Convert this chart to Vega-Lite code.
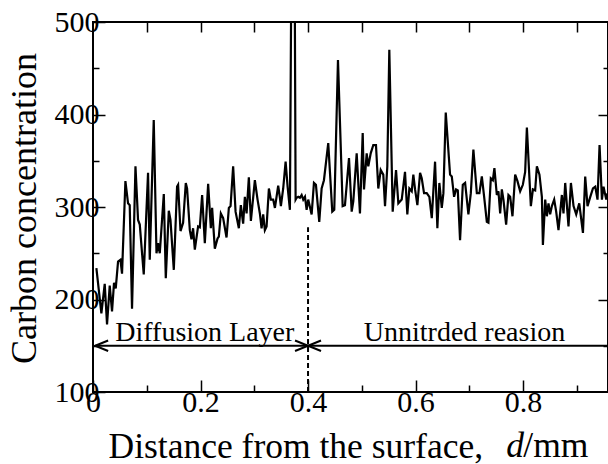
{
  "$schema": "https://vega.github.io/schema/vega-lite/v6.json",
  "width": 515,
  "height": 370,
  "autosize": {"type": "none"},
  "padding": {"left": 93, "top": 22, "right": 0, "bottom": 72},
  "background": "white",
  "config": {
    "view": {"stroke": "black", "strokeWidth": 2},
    "font": "Liberation Serif",
    "axis": {
      "domain": false,
      "grid": false,
      "labelFont": "Liberation Serif",
      "labelFontSize": 30,
      "labelColor": "black",
      "tickColor": "black",
      "tickWidth": 1.5,
      "titleFont": "Liberation Serif",
      "titleColor": "black",
      "titleFontWeight": "normal",
      "labelFlush": false,
      "labelOverlap": false
    },
    "text": {"font": "Liberation Serif"}
  },
  "datasets": {
    "profile": [
      {"d":0.0063,"c":234},{"d":0.0156,"c":185},{"d":0.0218,"c":217},{"d":0.0261,"c":173},{"d":0.0311,"c":215},
      {"d":0.0354,"c":187},{"d":0.0391,"c":218},{"d":0.0423,"c":212},{"d":0.0466,"c":241},{"d":0.0510,"c":243},
      {"d":0.0540,"c":228},{"d":0.0603,"c":328},{"d":0.0652,"c":304},{"d":0.0683,"c":302},{"d":0.0726,"c":190},
      {"d":0.0790,"c":344},{"d":0.0838,"c":286},{"d":0.0870,"c":281},{"d":0.0944,"c":227},{"d":0.1024,"c":337},
      {"d":0.1056,"c":243},{"d":0.1130,"c":394},{"d":0.1181,"c":250},{"d":0.1210,"c":261},{"d":0.1242,"c":250},
      {"d":0.1317,"c":314},{"d":0.1354,"c":223},{"d":0.1410,"c":296},{"d":0.1441,"c":286},{"d":0.1503,"c":232},
      {"d":0.1564,"c":322},{"d":0.1583,"c":324},{"d":0.1628,"c":274},{"d":0.1676,"c":283},{"d":0.1726,"c":326},
      {"d":0.1750,"c":320},{"d":0.1801,"c":275},{"d":0.1832,"c":265},{"d":0.1862,"c":277},{"d":0.1894,"c":254},
      {"d":0.1955,"c":279},{"d":0.1987,"c":278},{"d":0.2030,"c":313},{"d":0.2080,"c":261},{"d":0.2142,"c":325},
      {"d":0.2192,"c":277},{"d":0.2216,"c":299},{"d":0.2266,"c":255},{"d":0.2317,"c":266},{"d":0.2341,"c":268},
      {"d":0.2378,"c":293},{"d":0.2421,"c":288},{"d":0.2484,"c":267},{"d":0.2527,"c":299},{"d":0.2559,"c":301},
      {"d":0.2607,"c":344},{"d":0.2652,"c":295},{"d":0.2713,"c":277},{"d":0.2750,"c":302},{"d":0.2793,"c":282},
      {"d":0.2825,"c":311},{"d":0.2857,"c":293},{"d":0.2899,"c":332},{"d":0.2937,"c":285},{"d":0.3011,"c":329},
      {"d":0.3061,"c":308},{"d":0.3104,"c":293},{"d":0.3136,"c":277},{"d":0.3166,"c":292},{"d":0.3197,"c":275},
      {"d":0.3229,"c":279},{"d":0.3272,"c":320},{"d":0.3309,"c":308},{"d":0.3352,"c":308},{"d":0.3384,"c":299},
      {"d":0.3445,"c":323},{"d":0.3477,"c":310},{"d":0.3495,"c":301},{"d":0.3538,"c":320},{"d":0.3583,"c":349},
      {"d":0.3620,"c":322},{"d":0.3663,"c":297},{"d":0.3696,"c":620},{"d":0.3747,"c":620},{"d":0.3769,"c":308},
      {"d":0.3788,"c":310},{"d":0.3818,"c":311},{"d":0.3849,"c":310},{"d":0.3881,"c":313},{"d":0.3911,"c":308},
      {"d":0.3943,"c":311},{"d":0.3974,"c":297},{"d":0.4004,"c":308},{"d":0.4067,"c":292},{"d":0.4110,"c":326},
      {"d":0.4147,"c":324},{"d":0.4209,"c":284},{"d":0.4253,"c":320},{"d":0.4296,"c":329},{"d":0.4376,"c":369},
      {"d":0.4451,"c":295},{"d":0.4488,"c":297},{"d":0.4557,"c":459},{"d":0.4644,"c":301},{"d":0.4687,"c":302},
      {"d":0.4762,"c":353},{"d":0.4812,"c":295},{"d":0.4842,"c":306},{"d":0.4905,"c":358},{"d":0.4966,"c":293},
      {"d":0.5017,"c":380},{"d":0.5041,"c":319},{"d":0.5091,"c":358},{"d":0.5121,"c":344},{"d":0.5166,"c":358},
      {"d":0.5214,"c":367},{"d":0.5264,"c":367},{"d":0.5307,"c":320},{"d":0.5352,"c":340},{"d":0.5400,"c":335},
      {"d":0.5432,"c":301},{"d":0.5475,"c":344},{"d":0.5512,"c":470},{"d":0.5575,"c":295},{"d":0.5637,"c":340},
      {"d":0.5680,"c":304},{"d":0.5743,"c":308},{"d":0.5804,"c":338},{"d":0.5847,"c":292},{"d":0.5885,"c":320},
      {"d":0.5929,"c":317},{"d":0.5959,"c":335},{"d":0.5991,"c":319},{"d":0.6034,"c":302},{"d":0.6084,"c":337},
      {"d":0.6115,"c":331},{"d":0.6158,"c":315},{"d":0.6208,"c":315},{"d":0.6257,"c":311},{"d":0.6302,"c":288},
      {"d":0.6363,"c":349},{"d":0.6406,"c":277},{"d":0.6443,"c":326},{"d":0.6488,"c":299},{"d":0.6518,"c":315},
      {"d":0.6562,"c":402},{"d":0.6642,"c":335},{"d":0.6674,"c":333},{"d":0.6717,"c":311},{"d":0.6754,"c":319},
      {"d":0.6786,"c":318},{"d":0.6828,"c":264},{"d":0.6879,"c":324},{"d":0.6922,"c":326},{"d":0.6983,"c":292},
      {"d":0.7028,"c":315},{"d":0.7076,"c":362},{"d":0.7140,"c":315},{"d":0.7188,"c":315},{"d":0.7233,"c":333},
      {"d":0.7276,"c":311},{"d":0.7326,"c":284},{"d":0.7356,"c":283},{"d":0.7400,"c":331},{"d":0.7438,"c":329},
      {"d":0.7467,"c":342},{"d":0.7512,"c":313},{"d":0.7542,"c":317},{"d":0.7574,"c":293},{"d":0.7605,"c":319},
      {"d":0.7635,"c":308},{"d":0.7685,"c":281},{"d":0.7728,"c":313},{"d":0.7760,"c":311},{"d":0.7803,"c":290},
      {"d":0.7853,"c":335},{"d":0.7896,"c":328},{"d":0.7946,"c":317},{"d":0.7996,"c":324},{"d":0.8039,"c":338},
      {"d":0.8071,"c":386},{"d":0.8145,"c":301},{"d":0.8183,"c":319},{"d":0.8225,"c":318},{"d":0.8257,"c":344},
      {"d":0.8305,"c":335},{"d":0.8350,"c":311},{"d":0.8369,"c":259},{"d":0.8412,"c":308},{"d":0.8443,"c":290},
      {"d":0.8473,"c":304},{"d":0.8504,"c":292},{"d":0.8536,"c":301},{"d":0.8579,"c":308},{"d":0.8616,"c":295},
      {"d":0.8659,"c":275},{"d":0.8722,"c":313},{"d":0.8752,"c":293},{"d":0.8784,"c":326},{"d":0.8845,"c":279},
      {"d":0.8890,"c":326},{"d":0.8939,"c":301},{"d":0.8989,"c":292},{"d":0.9045,"c":304},{"d":0.9114,"c":272},
      {"d":0.9156,"c":333},{"d":0.9199,"c":301},{"d":0.9250,"c":311},{"d":0.9300,"c":320},{"d":0.9343,"c":322},
      {"d":0.9385,"c":308},{"d":0.9423,"c":367},{"d":0.9467,"c":308},{"d":0.9497,"c":322},{"d":0.9547,"c":308},
      {"d":0.9572,"c":315}
    ]
  },
  "layer": [
    {
      "data": {"name": "profile"},
      "mark": {"type": "line", "color": "black", "strokeWidth": 2.2, "clip": true, "strokeJoin": "miter"},
      "encoding": {
        "x": {
          "field": "d", "type": "quantitative",
          "scale": {"domain": [0, 0.958], "nice": false, "zero": false},
          "axis": {
            "orient": "bottom",
            "values": [0, 0.1, 0.2, 0.3, 0.4, 0.5, 0.6, 0.7, 0.8, 0.9],
            "labelExpr": "round(datum.value*10)%2==0 ? (datum.value==0 ? '0' : format(datum.value,'.1f')) : ''",
            "tickSize": {"condition": {"test": "round(datum.value*10)%2==0", "value": -12}, "value": -7},
            "labelFont": "Liberation Serif",
            "labelFontSize": 30,
            "labelPadding": 7,
            "title": "Distance from the surface,",
            "titleFontSize": 35.5,
            "titleAnchor": "start",
            "titleAlign": "left",
            "titleBaseline": "alphabetic",
            "titleX": 15,
            "titleY": 65
          }
        },
        "y": {
          "field": "c", "type": "quantitative",
          "scale": {"domain": [100, 500], "nice": false, "zero": false},
          "axis": {
            "orient": "left",
            "values": [100, 150, 200, 250, 300, 350, 400, 450, 500],
            "labelExpr": "datum.value%100==0 ? format(datum.value,'d') : ''",
            "tickSize": {"condition": {"test": "datum.value%100==0", "value": -12}, "value": -6},
            "labelFont": "Liberation Serif",
            "labelFontSize": 30,
            "labelPadding": 6,
            "labelBaseline": "middle",
            "title": "Carbon concentration",
            "titleFontSize": 36,
            "titleAngle": -90,
            "titleAlign": "center",
            "titleBaseline": "alphabetic",
            "titleX": -58,
            "titleY": 186
          }
        }
      }
    },
    {
      "data": {"values": [{"x": 0.4, "y": 100, "y2": 278}]},
      "mark": {"type": "rule", "color": "black", "strokeWidth": 2, "strokeDash": [5, 3]},
      "encoding": {
        "x": {
          "field": "x", "type": "quantitative",
          "scale": {"domain": [0, 0.958], "nice": false, "zero": false},
          "axis": {
            "orient": "top",
            "values": [0.1, 0.2, 0.3, 0.4, 0.5, 0.6, 0.7, 0.8, 0.9],
            "labels": false,
            "tickSize": -10,
            "title": null
          }
        },
        "y": {
          "field": "y", "type": "quantitative",
          "scale": {"domain": [100, 500], "nice": false, "zero": false},
          "axis": {
            "orient": "right",
            "values": [150, 200, 250, 300, 350, 400, 450],
            "labels": false,
            "tickSize": {"condition": {"test": "datum.value%100==0", "value": -10}, "value": -5},
            "title": null
          }
        },
        "y2": {"field": "y2"}
      }
    },
    {
      "data": {"values": [{"x": 0.004, "x2": 0.4, "y": 150}, {"x": 0.4, "x2": 0.958, "y": 150}]},
      "mark": {"type": "rule", "color": "black", "strokeWidth": 2},
      "encoding": {
        "x": {"field": "x", "type": "quantitative", "axis": null},
        "x2": {"field": "x2"},
        "y": {"field": "y", "type": "quantitative", "axis": null}
      }
    },
    {
      "data": {"values": [{"x": 0.004, "y": 150, "dir": "L"}, {"x": 0.4, "y": 150, "dir": "R"}, {"x": 0.4, "y": 150, "dir": "L"}]},
      "mark": {"type": "point", "filled": false, "color": "black", "strokeWidth": 2, "opacity": 1, "size": 169},
      "encoding": {
        "x": {"field": "x", "type": "quantitative", "axis": null},
        "y": {"field": "y", "type": "quantitative", "axis": null},
        "shape": {
          "field": "dir", "type": "nominal", "legend": null,
          "scale": {"domain": ["L", "R"], "range": ["M2,-0.8L0,0L2,0.8", "M-2,-0.8L0,0L-2,0.8"]}
        }
      }
    },
    {
      "data": {"values": [{"x": 0.208, "y": 155, "t": "Diffusion Layer"}, {"x": 0.691, "y": 155, "t": "Unnitrded reasion"}]},
      "mark": {"type": "text", "font": "Liberation Serif", "fontSize": 28, "color": "black", "align": "center", "baseline": "alphabetic"},
      "encoding": {
        "x": {"field": "x", "type": "quantitative", "axis": null},
        "y": {"field": "y", "type": "quantitative", "axis": null},
        "text": {"field": "t"}
      }
    },
    {
      "data": {"values": [{"x": 0.7685, "y": 29.2, "t": "d"}]},
      "mark": {"type": "text", "font": "Liberation Serif", "fontSize": 35.5, "fontStyle": "italic", "color": "black", "align": "left", "baseline": "alphabetic"},
      "encoding": {
        "x": {"field": "x", "type": "quantitative", "axis": null},
        "y": {"field": "y", "type": "quantitative", "axis": null},
        "text": {"field": "t"}
      }
    },
    {
      "data": {"values": [{"x": 0.8005, "y": 29.2, "t": "/mm"}]},
      "mark": {"type": "text", "font": "Liberation Serif", "fontSize": 35.5, "color": "black", "align": "left", "baseline": "alphabetic"},
      "encoding": {
        "x": {"field": "x", "type": "quantitative", "axis": null},
        "y": {"field": "y", "type": "quantitative", "axis": null},
        "text": {"field": "t"}
      }
    }
  ],
  "resolve": {"axis": {"x": "independent", "y": "independent"}}
}
